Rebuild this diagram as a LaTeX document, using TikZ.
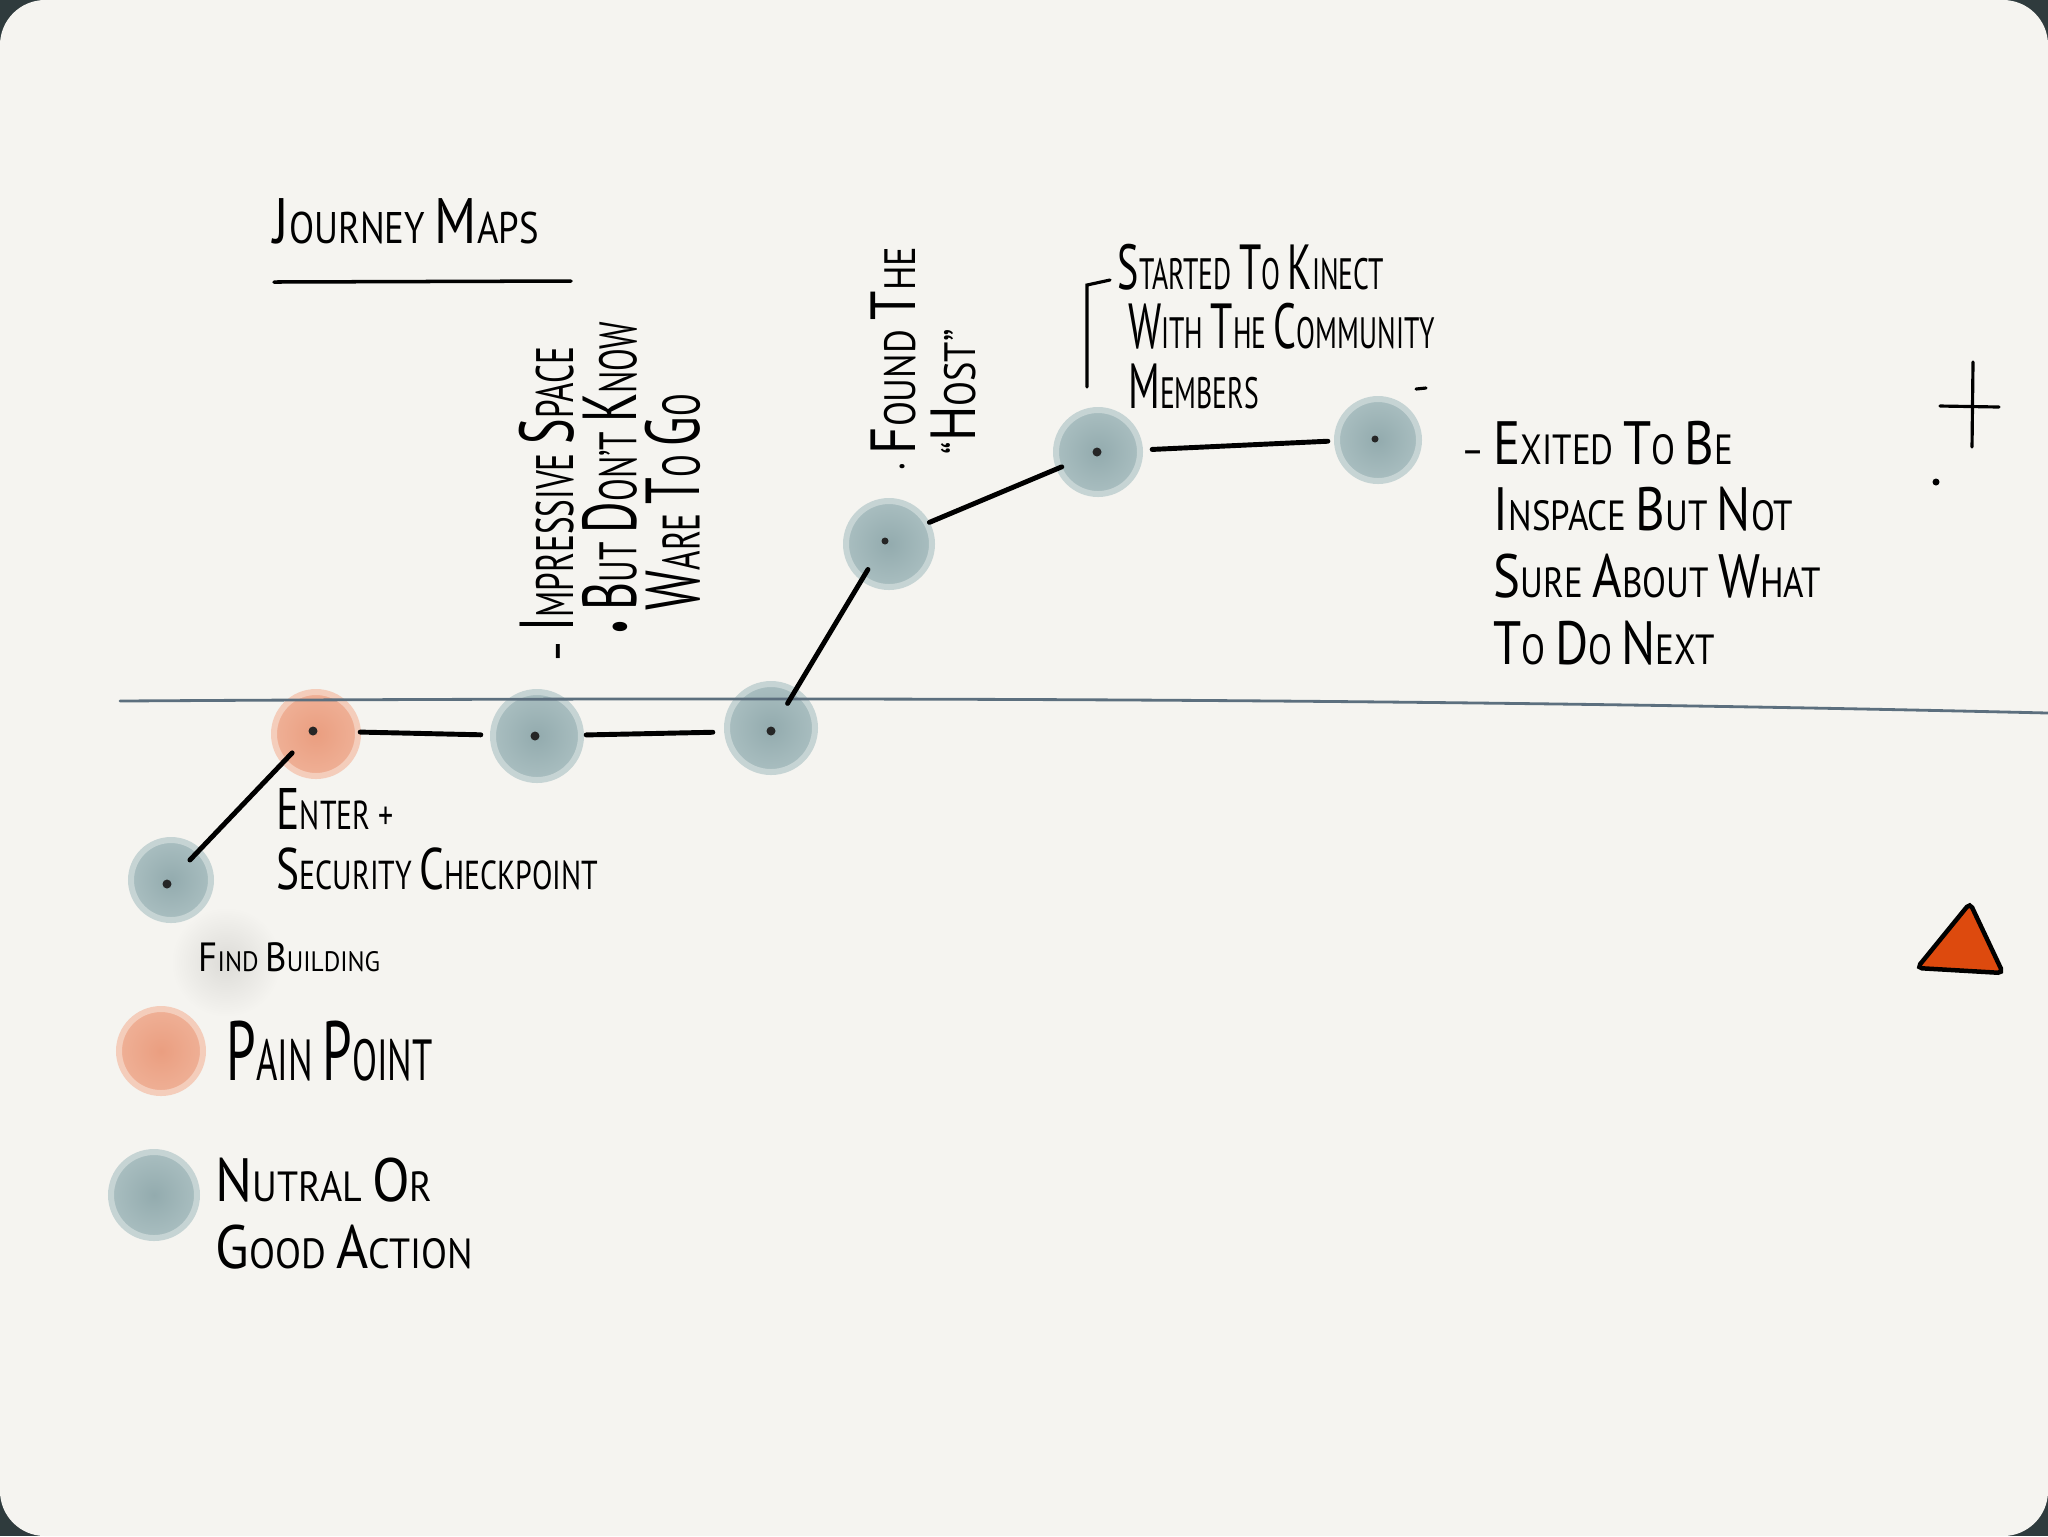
\documentclass[tikz,border=0pt]{standalone}
\usepackage{fontspec}
\newfontfamily\handfont[FakeStretch=0.83]{PT Sans}
\newfontfamily\handmid[FakeStretch=0.74]{PT Sans}
\newfontfamily\handcond[FakeStretch=0.63]{PT Sans}
\newfontfamily\handwide[FakeStretch=0.9]{PT Sans}
\newcommand{\ini}[1]{\scalebox{1.45}{#1}}
\lineskiplimit=-100pt

\definecolor{paper}{HTML}{F5F4F0}
\definecolor{corner}{HTML}{2F3B3D}
\definecolor{tealcore}{HTML}{93ABAE}
\definecolor{tealedge}{HTML}{A9BEC0}
\definecolor{tealhalo}{HTML}{C6D4D4}
\definecolor{paincore}{HTML}{EA9E80}
\definecolor{painedge}{HTML}{EFB096}
\definecolor{painhalo}{HTML}{F4CDBB}
\definecolor{horizon}{HTML}{5C6F7E}
\definecolor{flag}{HTML}{DD4A0E}
\definecolor{smudge}{HTML}{DCDBD7}

\tikzset{
  teal blob/.style={circle, inner sep=0pt, inner color=tealcore, outer color=tealedge,
    draw=tealhalo, line width=0.6mm},
  pain blob/.style={circle, inner sep=0pt, inner color=paincore, outer color=painedge,
    draw=painhalo, line width=0.6mm},
  dot/.style={circle, fill=black!85, inner sep=0pt, minimum size=0.9mm},
  link/.style={line width=1.4pt, line cap=round},
  ink/.style={line width=0.9pt, line cap=round},
  handtext/.style={inner sep=0pt, anchor=north west, align=left},
}

\begin{document}
\begin{tikzpicture}[x=0.1mm, y=-0.1mm]
\useasboundingbox (0,0) rectangle (2048,1536);
% Paper
\fill[corner] (0,0) rectangle (2048,1536);
\fill[paper, rounded corners=4.5mm] (0,0) rectangle (2048,1536);

% Title
\node[handtext, font={\handfont\fontsize{12.6pt}{15pt}\selectfont}] (title) at (273,198)
  {\ini{J}OURNEY \ini{M}APS};
\draw[ink, line width=1pt] (274,282) -- (571,281);

% Journey points
\node[teal blob, minimum size=8.0mm] (b1) at (171,880) {};
\node[pain blob, minimum size=8.4mm] (b2) at (316,734) {};
\node[teal blob, minimum size=8.8mm] (b3) at (537,736) {};
\node[teal blob, minimum size=8.8mm] (b4) at (771,728) {};
\node[teal blob, minimum size=8.6mm] (b5) at (889,544) {};
\node[teal blob, minimum size=8.4mm] (b6) at (1098,452) {};
\node[teal blob, minimum size=8.2mm] (b7) at (1378,440) {};

% Horizon
\draw[horizon, line width=0.8pt, line cap=round] (120,701) .. controls (900,696) and (1500,700) .. (2048,713);

\node[dot] (d1) at (167,884) {};
\node[dot] (d2) at (313,731) {};
\node[dot] (d3) at (535,736) {};
\node[dot] (d4) at (771,731) {};
\node[dot, minimum size=0.7mm] (d5) at (885,541) {};
\node[dot] (d6) at (1097,452) {};
\node[dot, minimum size=0.7mm] (d7) at (1375,439) {};

\draw[link, shorten <=2.8mm, shorten >=2.5mm] (d1) -- (d2);
\draw[link, shorten <=4.2mm, shorten >=4.9mm] (d2) -- (d3);
\draw[link, shorten <=4.6mm, shorten >=5.3mm] (d3) -- (d4);
\draw[link, shorten <=2.7mm, shorten >=2.9mm] (d4) -- (d5);
\draw[link, shorten <=4.4mm, shorten >=3.3mm] (d5) -- (d6);
\draw[link, shorten <=5.0mm, shorten >=4.3mm] (d6) -- (d7);

% Labels
\shade[inner color=smudge, outer color=paper] (226,962) circle (5.5mm);
\node[handtext, font={\handwide\fontsize{8pt}{10pt}\selectfont}] (find) at (198,942)
  {\ini{F}IND \ini{B}UILDING};
\node[handtext, font={\handmid\fontsize{11.5pt}{17pt}\selectfont}] (enter) at (276,788)
  {\ini{E}NTER +\\\ini{S}ECURITY \ini{C}HECKPOINT};
\node[handtext, rotate=90, font={\handcond\fontsize{15pt}{18pt}\selectfont}] (impressive) at (518,632)
  {\llap{– }\ini{I}MPRESSIVE \ini{S}PACE\\
   \hspace*{6pt}\llap{•\,}\ini{B}UT \ini{D}ON’T \ini{K}NOW\\
   \hspace*{6pt}\ini{W}ARE \ini{T}O \ini{G}O};
\node[handtext, rotate=90, font={\handfont\fontsize{12.5pt}{17pt}\selectfont}] (host) at (870,455)
  {\llap{·\,}\ini{F}OUND \ini{T}HE\\“\ini{H}OST”};
\node[handtext, font={\handcond\fontsize{12.5pt}{17pt}\selectfont}] (kinect) at (1117,243)
  {\ini{S}TARTED \ini{T}O \ini{K}INECT\\
   \hspace*{3pt}\ini{W}ITH \ini{T}HE \ini{C}OMMUNITY\\
   \hspace*{3pt}\ini{M}EMBERS};
\draw[ink] (1110,280) -- (1087,285) -- (1087,387);
\draw[ink] (1416,389) -- (1426,388);
\node[handtext, font={\handfont\fontsize{12pt}{19pt}\selectfont}] (exited) at (1493,420)
  {\llap{– }\ini{E}XITED \ini{T}O \ini{B}E\\
   \ini{I}NSPACE \ini{B}UT \ini{N}OT\\
   \ini{S}URE \ini{A}BOUT \ini{W}HAT\\
   \ini{T}O \ini{D}O \ini{N}EXT};

% Legend
\node[pain blob, minimum size=8.4mm] (lpain) at (161,1051) {};
\node[handtext, font={\handcond\fontsize{16.5pt}{20pt}\selectfont}] (painlabel) at (226,1020)
  {\ini{P}AIN \ini{P}OINT};
\node[teal blob, minimum size=8.6mm] (lteal) at (154,1195) {};
\node[handtext, font={\handwide\fontsize{12pt}{19pt}\selectfont}] (teallabel) at (215,1157)
  {\ini{N}UTRAL \ini{O}R\\\ini{G}OOD \ini{A}CTION};

% Marks on the right
\draw[ink] (1973,362) -- (1972,447);
\draw[ink] (1940,406) -- (1999,407);
\fill (1936,482) circle (0.35mm);
\filldraw[fill=flag, draw=black, line width=0.45mm, rounded corners=0.5mm]
  (1970,903) -- (1917,968) -- (2003,973) -- cycle;
\end{tikzpicture}
\end{document}
